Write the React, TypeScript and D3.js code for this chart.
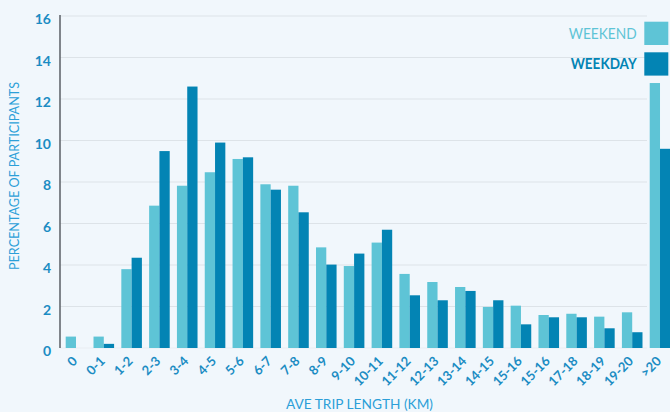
import React from "react";
import * as d3 from "d3";

const categories = ["0","0-1","1-2","2-3","3-4","4-5","5-6","6-7","7-8","8-9","9-10","10-11","11-12","12-13","13-14","14-15","15-16","15-16","17-18","18-19","19-20",">20"];
const weekend = [0.55,0.55,3.8,6.86,7.82,8.47,9.11,7.89,7.82,4.85,3.95,5.08,3.57,3.18,2.94,1.98,2.04,1.59,1.65,1.51,1.72,12.77];
const weekday = [0,0.2,4.35,9.49,12.6,9.9,9.19,7.63,6.54,4.02,4.55,5.7,2.54,2.3,2.75,2.3,1.14,1.48,1.48,0.95,0.76,9.6];
const yTicks = [0,2,4,6,8,10,12,14,16];
const seriesNames = ["WEEKEND","WEEKDAY"];

const W = 670, H = 412;
const C_WEEKEND = "#5ec4d6";
const C_WEEKDAY = "#0384b4";
const C_TICK = "#1b8cc3";
const C_TITLE = "#2c9fd8";
const FONT = "Lato, 'Open Sans', sans-serif";

export default function App() {
  const idx = categories.map((_, i) => String(i));
  const x = d3.scaleBand<string>().domain(idx).range([65.7, 670.3]).paddingInner(0.26).paddingOuter(0);
  const y = d3.scaleLinear().domain([0, 16]).range([348, 16]);
  const bw = x.bandwidth();
  const sub = d3.scaleBand<number>().domain([0, 1]).range([0, bw]).padding(0);
  const series = [weekend, weekday];
  const colors = [C_WEEKEND, C_WEEKDAY];

  return (
    <svg width={W} height={H} style={{ position: "absolute", left: 0, top: 0, display: "block" }} fontFamily={FONT}>
      <rect x={0} y={0} width={W} height={H} fill="#f1f7fc" />
      {yTicks.map((t) => (
        <line key={"g" + t} x1={60} x2={647} y1={y(t)} y2={y(t)} stroke={t === 0 ? "#e9eef2" : "#dde3e8"} strokeWidth={1.2} />
      ))}
      {series.map((s, si) =>
        s.map((v, i) => (
          <rect
            key={si + "-" + i}
            x={(x(String(i)) as number) + (sub(si) as number)}
            y={y(v)}
            width={sub.bandwidth()}
            height={y(0) - y(v)}
            fill={colors[si]}
          />
        ))
      )}
      <line x1={60} x2={60} y1={y(16) - 1} y2={y(0)} stroke="#5a5f66" strokeWidth={1.5} />
      {yTicks.map((t) => (
        <text key={"t" + t} x={51} y={y(t) + 3.5} dy="0.35em" textAnchor="end" fontSize={14} fontWeight={700} fill={C_TICK}>
          {t}
        </text>
      ))}
      {categories.map((c, i) => {
        const cx = (x(String(i)) as number) + bw / 2 + 2;
        const cy = 362;
        return (
          <text key={"c" + i} x={cx} y={cy} transform={`rotate(-45 ${cx} ${cy})`} textAnchor="end" fontSize={13} fontWeight={700} fill={C_TICK}>
            {c}
          </text>
        );
      })}
      <text x={0} y={0} transform={`translate(18.5 176) rotate(-90)`} textAnchor="middle" fontSize={13} fill={C_TITLE} textLength={188} lengthAdjust="spacingAndGlyphs">
        PERCENTAGE OF PARTICIPANTS
      </text>
      <text x={359.5} y={408.5} textAnchor="middle" fontSize={13.5} fill={C_TITLE} textLength={147} lengthAdjust="spacingAndGlyphs">
        AVE TRIP LENGTH (KM)
      </text>
      {seriesNames.map((n, i) => (
        <g key={n}>
          <rect x={644.3} y={21.7 + i * 30.6} width={24} height={23.3} fill={colors[i]} />
          <text x={636.7} y={33.4 + i * 30.6} dy="0.35em" textAnchor="end" fontSize={15} fontWeight={i === 1 ? 700 : 400} fill={colors[i]} textLength={i === 0 ? 68 : 66} lengthAdjust="spacingAndGlyphs">
            {n}
          </text>
        </g>
      ))}
    </svg>
  );
}
